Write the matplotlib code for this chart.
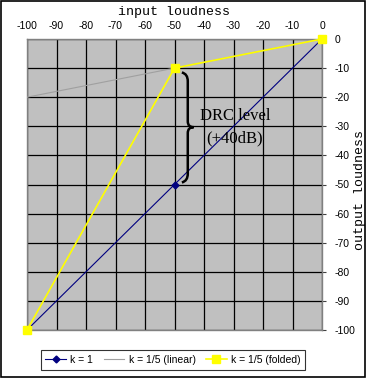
import matplotlib
matplotlib.use("Agg")
import matplotlib.pyplot as plt
from matplotlib.patches import Rectangle, PathPatch
from matplotlib.path import Path

plt.rcParams["axes.unicode_minus"] = False

x_in = [-100, -50, 0]
k1 = [-100, -50, 0]
k5_linear = [-20, -10, 0]
k5_folded = [-100, -10, 0]
xticks = list(range(-100, 1, 10))
yticks = list(range(-100, 1, 10))

fig = plt.figure(figsize=(3.66, 3.78), dpi=100)
fig.patch.set_facecolor("white")
ax = fig.add_axes([27/366, 1-330/378, 295/366, 291/378])
ax.set_facecolor("#c0c0c0")
ax.set_xlim(-100, 0)
ax.set_ylim(-100, 0)
ax.set_xticks(xticks)
ax.set_yticks(yticks)
ax.grid(True, color="black", linewidth=0.9)
ax.set_axisbelow(True)
for s in ax.spines.values():
    s.set_color("#808080")
    s.set_linewidth(1.0)

ax.xaxis.tick_top()
ax.yaxis.tick_right()
ax.tick_params(axis="x", length=0, pad=6, labelsize=7.5)
ax.tick_params(axis="y", length=3, color="#404040", pad=6, labelsize=7.5)
for lab in ax.get_xticklabels() + ax.get_yticklabels():
    lab.set_family("Liberation Sans")
ax.xaxis.set_label_position("top")
ax.yaxis.set_label_position("right")
ax.set_xlabel("input loudness", family="Liberation Mono", fontsize=9.5, labelpad=4)
ax.set_ylabel("output loudness", family="Liberation Mono", fontsize=9.5)
ax.yaxis.set_label_coords(1.11, 0.48)

ax.plot(x_in, k5_linear, color="#a0a0a0", lw=0.8, label="k = 1/5 (linear)", zorder=3)
ax.plot(x_in, k1, color="#000080", lw=0.8, marker="D", ms=3.5, label="k = 1", zorder=4)
ax.plot(x_in, k5_folded, color="#ffff00", lw=1.2, marker="s", ms=6, label="k = 1/5 (folded)", zorder=5, clip_on=False)

# brace
xb, xt = -47.5, -43.5
yt, yb, ym = -11.5, -49.3, -30.3
verts = [(xb, yt), (xb+2, yt-0.5), (xb+2, yt-3), (xb+2, ym+2),
         (xb+2, ym), (xt, ym), (xb+2, ym), (xb+2, ym-2), (xb+2, yb+3),
         (xb+2, yb+0.5), (xb, yb)]
codes = [Path.MOVETO, Path.CURVE3, Path.CURVE3, Path.LINETO,
         Path.CURVE3, Path.CURVE3, Path.CURVE3, Path.CURVE3, Path.LINETO,
         Path.CURVE3, Path.CURVE3]
ax.add_patch(PathPatch(Path(verts, codes), fill=False, lw=1.8, color="black", zorder=6))

ax.text(-29.5, -26.5, "DRC level", family="Liberation Serif", fontsize=12, ha="center", va="center", zorder=6)
ax.text(-29.5, -34, "(+40dB)", family="Liberation Serif", fontsize=12, ha="center", va="center", zorder=6)

h, l = ax.get_legend_handles_labels()
order = [1, 0, 2]
leg = fig.legend([h[i] for i in order], [l[i] for i in order], loc="center",
                 bbox_to_anchor=(173/366, 1-360/378), ncol=3, frameon=True,
                 fancybox=False, edgecolor="black",
                 prop={"family": "Liberation Sans", "size": 7.5},
                 handlelength=2.0, handletextpad=0.4, columnspacing=1.0,
                 borderpad=0.45, borderaxespad=0)
leg.get_frame().set_linewidth(0.8)

fig.patches.append(Rectangle((0.002, 0.002), 0.996, 0.996, transform=fig.transFigure,
                             fill=False, edgecolor="black", lw=1.2))
fig.savefig("out.png", dpi=100)
